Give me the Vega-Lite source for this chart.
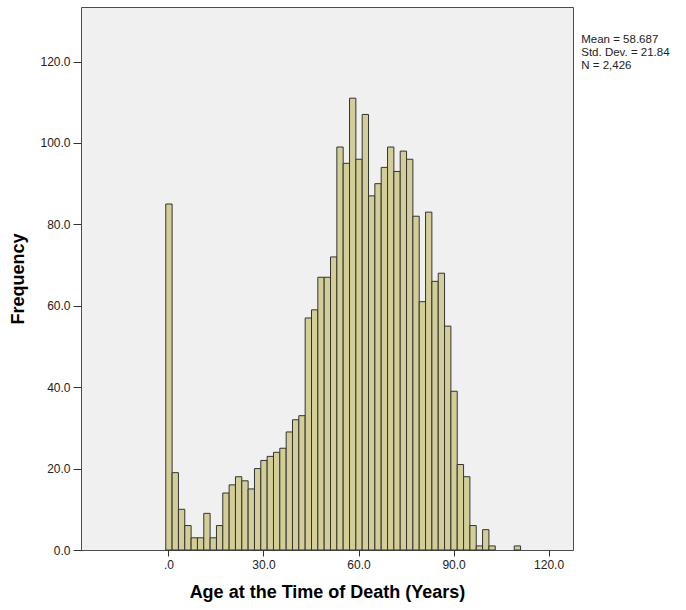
{
  "$schema": "https://vega.github.io/schema/vega-lite/v6.json",
  "width": 492,
  "height": 543,
  "autosize": "none",
  "padding": {"left": 81, "top": 7, "right": 113, "bottom": 60},
  "background": "white",
  "config": {
    "view": {"fill": "#f0f0f0", "stroke": "#4d4d4d", "strokeWidth": 1},
    "font": "Liberation Sans"
  },
  "layer": [
    {
      "data": {
        "values": [
          {"age_start": -1, "age_end": 1, "frequency": 85},
          {"age_start": 1, "age_end": 3, "frequency": 19},
          {"age_start": 3, "age_end": 5, "frequency": 10},
          {"age_start": 5, "age_end": 7, "frequency": 6},
          {"age_start": 7, "age_end": 9, "frequency": 3},
          {"age_start": 9, "age_end": 11, "frequency": 3},
          {"age_start": 11, "age_end": 13, "frequency": 9},
          {"age_start": 13, "age_end": 15, "frequency": 3},
          {"age_start": 15, "age_end": 17, "frequency": 6},
          {"age_start": 17, "age_end": 19, "frequency": 14},
          {"age_start": 19, "age_end": 21, "frequency": 16},
          {"age_start": 21, "age_end": 23, "frequency": 18},
          {"age_start": 23, "age_end": 25, "frequency": 17},
          {"age_start": 25, "age_end": 27, "frequency": 15},
          {"age_start": 27, "age_end": 29, "frequency": 20},
          {"age_start": 29, "age_end": 31, "frequency": 22},
          {"age_start": 31, "age_end": 33, "frequency": 23},
          {"age_start": 33, "age_end": 35, "frequency": 24},
          {"age_start": 35, "age_end": 37, "frequency": 25},
          {"age_start": 37, "age_end": 39, "frequency": 29},
          {"age_start": 39, "age_end": 41, "frequency": 32},
          {"age_start": 41, "age_end": 43, "frequency": 33},
          {"age_start": 43, "age_end": 45, "frequency": 57},
          {"age_start": 45, "age_end": 47, "frequency": 59},
          {"age_start": 47, "age_end": 49, "frequency": 67},
          {"age_start": 49, "age_end": 51, "frequency": 67},
          {"age_start": 51, "age_end": 53, "frequency": 72},
          {"age_start": 53, "age_end": 55, "frequency": 99},
          {"age_start": 55, "age_end": 57, "frequency": 95},
          {"age_start": 57, "age_end": 59, "frequency": 111},
          {"age_start": 59, "age_end": 61, "frequency": 96},
          {"age_start": 61, "age_end": 63, "frequency": 107},
          {"age_start": 63, "age_end": 65, "frequency": 87},
          {"age_start": 65, "age_end": 67, "frequency": 90},
          {"age_start": 67, "age_end": 69, "frequency": 94},
          {"age_start": 69, "age_end": 71, "frequency": 99},
          {"age_start": 71, "age_end": 73, "frequency": 93},
          {"age_start": 73, "age_end": 75, "frequency": 98},
          {"age_start": 75, "age_end": 77, "frequency": 96},
          {"age_start": 77, "age_end": 79, "frequency": 82},
          {"age_start": 79, "age_end": 81, "frequency": 61},
          {"age_start": 81, "age_end": 83, "frequency": 83},
          {"age_start": 83, "age_end": 85, "frequency": 66},
          {"age_start": 85, "age_end": 87, "frequency": 68},
          {"age_start": 87, "age_end": 89, "frequency": 55},
          {"age_start": 89, "age_end": 91, "frequency": 39},
          {"age_start": 91, "age_end": 93, "frequency": 21},
          {"age_start": 93, "age_end": 95, "frequency": 18},
          {"age_start": 95, "age_end": 97, "frequency": 6},
          {"age_start": 97, "age_end": 99, "frequency": 1},
          {"age_start": 99, "age_end": 101, "frequency": 5},
          {"age_start": 101, "age_end": 103, "frequency": 1},
          {"age_start": 109, "age_end": 111, "frequency": 1}
        ]
      },
      "mark": {"type": "bar", "fill": "#d3ce97", "stroke": "#333333", "strokeWidth": 1, "binSpacing": 0},
      "encoding": {
        "x": {
          "field": "age_start",
          "type": "quantitative",
          "bin": "binned",
          "scale": {"domain": [-27.6, 127.7], "nice": false, "zero": false},
          "axis": {
            "values": [0, 30, 60, 90, 120],
            "labelExpr": "datum.value == 0 ? '.0' : format(datum.value, '.1f')",
            "title": "Age at the Time of Death (Years)",
            "domain": false,
            "grid": false,
            "tickSize": 6,
            "tickColor": "#333333",
            "labelPadding": 3,
            "labelFontSize": 12,
            "labelColor": "#222222",
            "titleFontSize": 18,
            "titleFontWeight": "bold",
            "titleColor": "#000000",
            "titlePadding": 13
          }
        },
        "x2": {"field": "age_end"},
        "y": {
          "field": "frequency",
          "type": "quantitative",
          "scale": {"domain": [0, 133.4], "nice": false},
          "axis": {
            "values": [0, 20, 40, 60, 80, 100, 120],
            "format": ".1f",
            "title": "Frequency",
            "domain": false,
            "grid": false,
            "tickSize": 8,
            "tickColor": "#333333",
            "labelPadding": 3,
            "labelFontSize": 12,
            "labelColor": "#222222",
            "titleFontSize": 18,
            "titleFontWeight": "bold",
            "titleColor": "#000000",
            "titlePadding": 12
          }
        }
      }
    },
    {
      "data": {"values": [{"stats": ["Mean = 58.687", "Std. Dev. = 21.84", "N = 2,426"]}]},
      "mark": {"type": "text", "align": "left", "baseline": "top", "fontSize": 11.5, "lineHeight": 13, "color": "#222222", "clip": false},
      "encoding": {
        "x": {"datum": 130.3},
        "y": {"datum": 126.8},
        "text": {"field": "stats", "type": "nominal"}
      }
    }
  ]
}
